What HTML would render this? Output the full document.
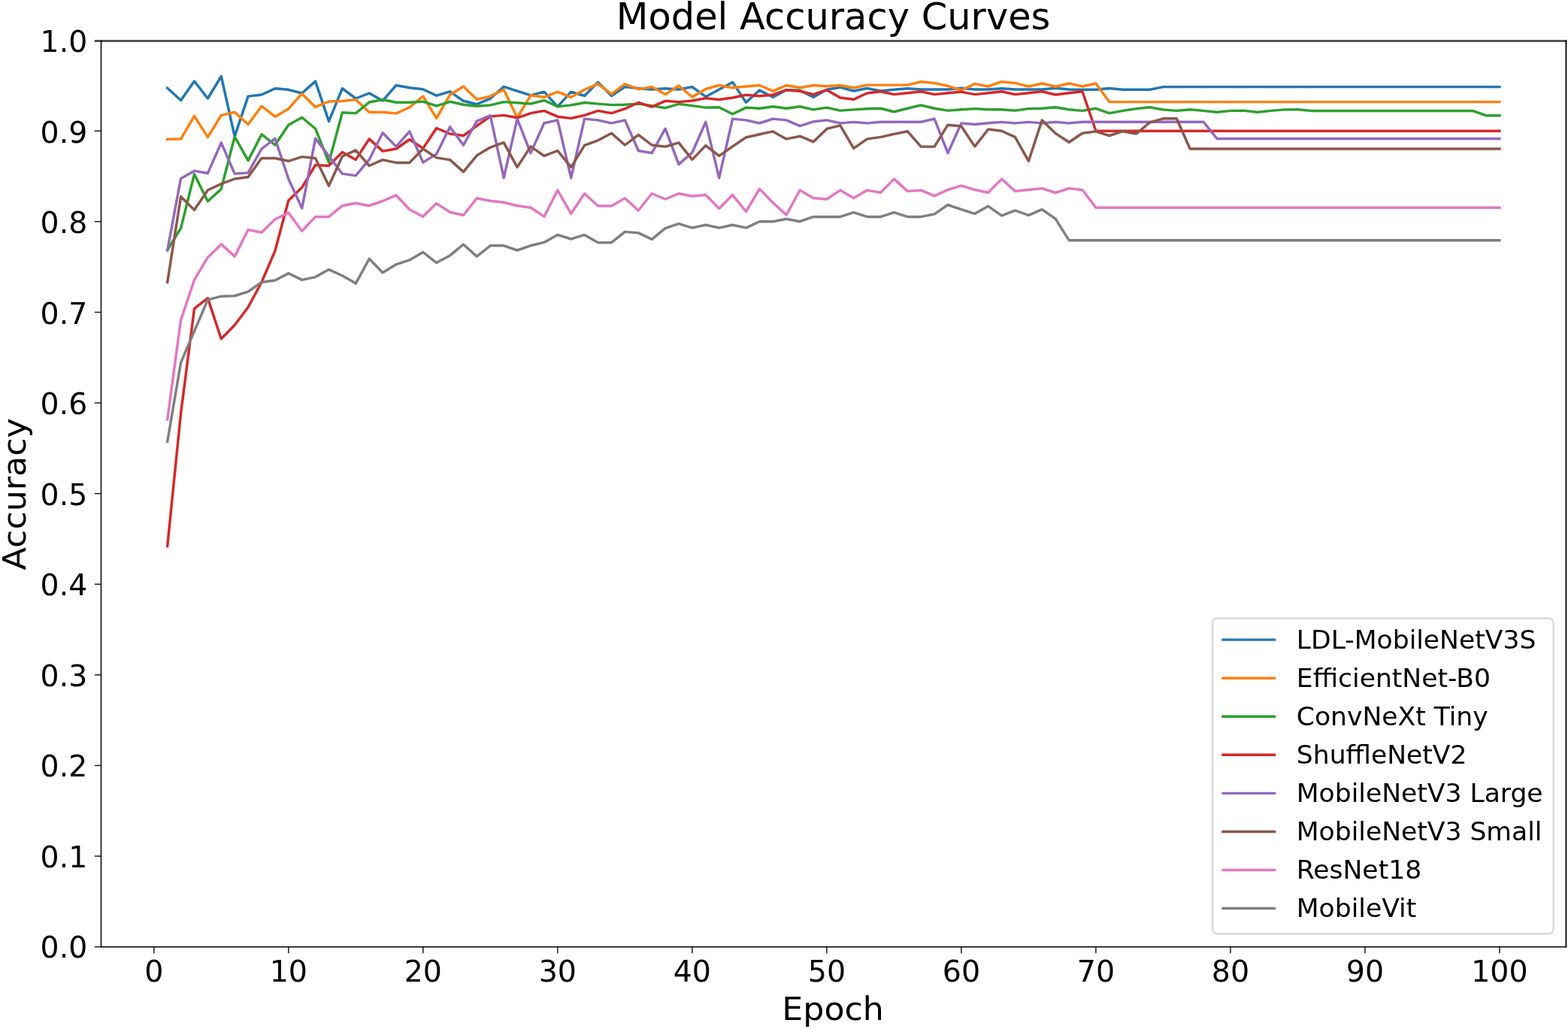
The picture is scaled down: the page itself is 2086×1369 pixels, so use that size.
<!DOCTYPE html>
<html lang="en"><head><meta charset="utf-8"><title>Model Accuracy Curves</title>
<style>html,body{margin:0;padding:0;background:#fff}body{width:2086px;height:1369px;overflow:hidden}svg{display:block}text{font-family:"DejaVu Sans","Liberation Sans",sans-serif;fill:#000}</style></head><body>
<svg width="2086" height="1369" viewBox="0 0 2086 1369">
<rect width="2086" height="1369" fill="#fff"/>
<g fill="none" stroke-width="3.45" stroke-linejoin="round" stroke-linecap="square">
<polyline stroke="#1f77b4" points="222.7,117.2 240.6,133.5 258.5,108.0 276.4,131.0 294.3,101.5 312.2,181.4 330.1,128.1 348.0,126.0 365.9,117.7 383.8,119.3 401.7,124.0 419.6,108.1 437.5,161.4 455.4,117.7 473.3,131.0 491.2,124.0 509.1,134.1 527.0,113.5 544.9,116.8 562.8,118.7 580.7,127.2 598.6,121.8 616.5,134.3 634.4,138.7 652.3,131.2 670.2,115.3 688.1,121.2 706.0,126.8 723.9,122.2 741.8,141.8 759.7,122.2 777.6,127.5 795.5,109.4 813.5,127.5 831.4,115.6 849.3,117.5 867.2,119.0 885.1,117.7 903.0,119.0 920.9,115.6 938.8,128.7 956.7,119.0 974.6,109.4 992.5,136.2 1010.4,120.0 1028.3,129.3 1046.2,119.7 1064.1,120.2 1082.0,129.3 1099.9,119.3 1117.8,116.2 1135.7,121.0 1153.6,117.5 1171.5,121.0 1189.4,119.3 1207.3,117.7 1225.2,119.0 1243.1,119.0 1261.0,119.0 1278.9,117.2 1296.8,119.0 1314.7,119.0 1332.6,117.7 1350.5,119.0 1368.4,119.0 1386.3,119.0 1404.2,117.2 1422.1,119.0 1440.0,119.3 1457.9,119.3 1475.8,117.5 1493.7,119.3 1511.6,119.3 1529.5,119.3 1547.4,115.6 1565.3,115.6 1583.2,115.6 1601.1,115.6 1619.0,115.6 1636.9,115.6 1654.8,115.6 1672.7,115.6 1690.6,115.6 1708.5,115.6 1726.4,115.6 1744.3,115.6 1762.2,115.6 1780.1,115.6 1798.0,115.6 1815.9,115.6 1833.8,115.6 1851.7,115.6 1869.6,115.6 1887.5,115.6 1905.4,115.6 1923.3,115.6 1941.2,115.6 1959.1,115.6 1977.0,115.6 1994.9,115.6"/>
<polyline stroke="#ff7f0e" points="222.7,185.3 240.6,184.9 258.5,154.3 276.4,182.7 294.3,153.4 312.2,149.3 330.1,165.5 348.0,141.2 365.9,155.2 383.8,144.7 401.7,124.7 419.6,142.4 437.5,135.0 455.4,134.5 473.3,132.5 491.2,149.3 509.1,149.3 527.0,150.9 544.9,142.7 562.8,128.1 580.7,157.4 598.6,126.2 616.5,115.0 634.4,132.2 652.3,128.1 670.2,119.3 688.1,156.5 706.0,126.8 723.9,129.3 741.8,122.2 759.7,129.3 777.6,119.3 795.5,111.6 813.5,125.2 831.4,111.8 849.3,118.7 867.2,115.6 885.1,125.6 903.0,114.0 920.9,129.0 938.8,118.5 956.7,113.5 974.6,116.8 992.5,115.0 1010.4,113.5 1028.3,121.2 1046.2,113.5 1064.1,116.8 1082.0,113.5 1099.9,114.7 1117.8,113.5 1135.7,116.8 1153.6,113.1 1171.5,113.1 1189.4,113.1 1207.3,113.1 1225.2,108.7 1243.1,110.6 1261.0,114.3 1278.9,120.0 1296.8,111.6 1314.7,115.0 1332.6,108.7 1350.5,110.6 1368.4,115.0 1386.3,111.0 1404.2,115.3 1422.1,111.0 1440.0,115.0 1457.9,111.0 1475.8,135.6 1493.7,135.6 1511.6,135.6 1529.5,135.6 1547.4,135.6 1565.3,135.6 1583.2,135.6 1601.1,135.6 1619.0,135.6 1636.9,135.6 1654.8,135.6 1672.7,135.6 1690.6,135.6 1708.5,135.6 1726.4,135.6 1744.3,135.6 1762.2,135.6 1780.1,135.6 1798.0,135.6 1815.9,135.6 1833.8,135.6 1851.7,135.6 1869.6,135.6 1887.5,135.6 1905.4,135.6 1923.3,135.6 1941.2,135.6 1959.1,135.6 1977.0,135.6 1994.9,135.6"/>
<polyline stroke="#2ca02c" points="222.7,332.6 240.6,303.7 258.5,231.8 276.4,267.8 294.3,251.5 312.2,181.8 330.1,213.6 348.0,178.7 365.9,193.0 383.8,166.2 401.7,156.2 419.6,171.2 437.5,216.1 455.4,149.7 473.3,150.6 491.2,136.0 509.1,132.5 527.0,136.2 544.9,136.2 562.8,135.2 580.7,140.9 598.6,135.3 616.5,139.3 634.4,141.2 652.3,139.9 670.2,135.6 688.1,136.8 706.0,138.1 723.9,133.5 741.8,141.8 759.7,139.9 777.6,136.5 795.5,138.1 813.5,139.6 831.4,139.3 849.3,138.1 867.2,140.6 885.1,143.7 903.0,138.4 920.9,140.6 938.8,143.1 956.7,142.7 974.6,151.8 992.5,143.1 1010.4,144.3 1028.3,141.8 1046.2,144.3 1064.1,141.8 1082.0,145.9 1099.9,143.1 1117.8,147.1 1135.7,145.9 1153.6,144.7 1171.5,144.3 1189.4,148.7 1207.3,144.3 1225.2,139.9 1243.1,144.3 1261.0,147.1 1278.9,145.8 1296.8,144.6 1314.7,145.8 1332.6,145.8 1350.5,147.1 1368.4,144.6 1386.3,144.3 1404.2,142.7 1422.1,145.8 1440.0,147.4 1457.9,144.3 1475.8,150.6 1493.7,147.4 1511.6,144.6 1529.5,142.7 1547.4,145.9 1565.3,147.4 1583.2,145.8 1601.1,147.4 1619.0,149.3 1636.9,147.4 1654.8,147.1 1672.7,149.3 1690.6,147.4 1708.5,145.9 1726.4,145.8 1744.3,147.4 1762.2,147.4 1780.1,147.4 1798.0,147.4 1815.9,147.4 1833.8,147.4 1851.7,147.4 1869.6,147.4 1887.5,147.4 1905.4,147.4 1923.3,147.4 1941.2,147.4 1959.1,147.4 1977.0,153.7 1994.9,153.7"/>
<polyline stroke="#d62728" points="222.7,726.7 240.6,549.8 258.5,410.6 276.4,396.6 294.3,450.8 312.2,432.5 330.1,408.7 348.0,375.5 365.9,333.7 383.8,266.8 401.7,249.4 419.6,219.6 437.5,220.5 455.4,202.4 473.3,212.4 491.2,184.9 509.1,201.1 527.0,198.0 544.9,185.5 562.8,197.4 580.7,170.5 598.6,178.0 616.5,180.5 634.4,167.4 652.3,154.9 670.2,153.4 688.1,156.8 706.0,150.6 723.9,147.4 741.8,155.2 759.7,157.4 777.6,153.4 795.5,147.4 813.5,150.6 831.4,144.7 849.3,136.5 867.2,142.2 885.1,134.3 903.0,135.6 920.9,134.0 938.8,130.6 956.7,132.5 974.6,130.0 992.5,126.2 1010.4,127.7 1028.3,126.2 1046.2,119.7 1064.1,121.2 1082.0,125.6 1099.9,119.7 1117.8,130.0 1135.7,132.2 1153.6,124.0 1171.5,121.8 1189.4,125.6 1207.3,123.7 1225.2,121.8 1243.1,125.6 1261.0,123.7 1278.9,122.1 1296.8,125.6 1314.7,123.7 1332.6,121.8 1350.5,125.6 1368.4,123.7 1386.3,121.8 1404.2,126.0 1422.1,123.7 1440.0,121.8 1457.9,174.3 1475.8,174.3 1493.7,174.3 1511.6,174.3 1529.5,174.3 1547.4,174.3 1565.3,174.3 1583.2,174.3 1601.1,174.3 1619.0,174.3 1636.9,174.3 1654.8,174.3 1672.7,174.3 1690.6,174.3 1708.5,174.3 1726.4,174.3 1744.3,174.3 1762.2,174.3 1780.1,174.3 1798.0,174.3 1815.9,174.3 1833.8,174.3 1851.7,174.3 1869.6,174.3 1887.5,174.3 1905.4,174.3 1923.3,174.3 1941.2,174.3 1959.1,174.3 1977.0,174.3 1994.9,174.3"/>
<polyline stroke="#9467bd" points="222.7,333.0 240.6,237.4 258.5,227.4 276.4,230.5 294.3,189.9 312.2,231.1 330.1,229.9 348.0,198.0 365.9,184.3 383.8,238.0 401.7,277.1 419.6,184.3 437.5,207.6 455.4,231.1 473.3,233.6 491.2,212.4 509.1,176.8 527.0,194.9 544.9,174.9 562.8,216.1 580.7,204.9 598.6,168.7 616.5,193.0 634.4,161.2 652.3,153.7 670.2,236.7 688.1,158.1 706.0,203.6 723.9,163.7 741.8,159.9 759.7,236.7 777.6,158.1 795.5,159.9 813.5,163.9 831.4,159.9 849.3,200.5 867.2,203.6 885.1,171.2 903.0,218.6 920.9,203.0 938.8,162.4 956.7,236.7 974.6,158.1 992.5,159.9 1010.4,163.9 1028.3,158.1 1046.2,159.9 1064.1,167.7 1082.0,161.8 1099.9,159.9 1117.8,163.9 1135.7,162.4 1153.6,163.9 1171.5,162.2 1189.4,162.2 1207.3,162.2 1225.2,162.2 1243.1,158.1 1261.0,203.6 1278.9,163.9 1296.8,165.5 1314.7,163.7 1332.6,162.4 1350.5,163.9 1368.4,162.4 1386.3,163.9 1404.2,162.2 1422.1,163.9 1440.0,162.2 1457.9,162.2 1475.8,162.2 1493.7,162.2 1511.6,162.2 1529.5,162.2 1547.4,162.2 1565.3,162.2 1583.2,162.2 1601.1,162.2 1619.0,184.5 1636.9,184.5 1654.8,184.5 1672.7,184.5 1690.6,184.5 1708.5,184.5 1726.4,184.5 1744.3,184.5 1762.2,184.5 1780.1,184.5 1798.0,184.5 1815.9,184.5 1833.8,184.5 1851.7,184.5 1869.6,184.5 1887.5,184.5 1905.4,184.5 1923.3,184.5 1941.2,184.5 1959.1,184.5 1977.0,184.5 1994.9,184.5"/>
<polyline stroke="#8c564b" points="222.7,375.5 240.6,261.5 258.5,279.3 276.4,253.0 294.3,244.6 312.2,238.0 330.1,235.5 348.0,210.5 365.9,210.5 383.8,214.3 401.7,208.6 419.6,210.5 437.5,247.3 455.4,208.0 473.3,199.9 491.2,220.5 509.1,212.6 527.0,216.4 544.9,216.4 562.8,198.0 580.7,209.9 598.6,212.6 616.5,228.6 634.4,206.8 652.3,196.1 670.2,189.6 688.1,222.4 706.0,194.9 723.9,207.4 741.8,200.5 759.7,222.4 777.6,193.4 795.5,186.8 813.5,177.2 831.4,193.0 849.3,179.3 867.2,193.0 885.1,195.1 903.0,189.9 920.9,212.4 938.8,193.6 956.7,207.4 974.6,194.9 992.5,182.7 1010.4,178.7 1028.3,174.9 1046.2,184.9 1064.1,181.2 1082.0,188.7 1099.9,171.4 1117.8,166.8 1135.7,197.4 1153.6,184.9 1171.5,182.4 1189.4,178.4 1207.3,174.7 1225.2,195.1 1243.1,195.1 1261.0,166.2 1278.9,168.0 1296.8,194.9 1314.7,172.0 1332.6,174.3 1350.5,182.4 1368.4,214.3 1386.3,159.9 1404.2,177.4 1422.1,189.3 1440.0,177.2 1457.9,174.9 1475.8,180.5 1493.7,174.7 1511.6,178.0 1529.5,163.0 1547.4,157.8 1565.3,157.8 1583.2,198.0 1601.1,198.0 1619.0,198.0 1636.9,198.0 1654.8,198.0 1672.7,198.0 1690.6,198.0 1708.5,198.0 1726.4,198.0 1744.3,198.0 1762.2,198.0 1780.1,198.0 1798.0,198.0 1815.9,198.0 1833.8,198.0 1851.7,198.0 1869.6,198.0 1887.5,198.0 1905.4,198.0 1923.3,198.0 1941.2,198.0 1959.1,198.0 1977.0,198.0 1994.9,198.0"/>
<polyline stroke="#e377c2" points="222.7,558.0 240.6,425.6 258.5,372.4 276.4,342.4 294.3,324.9 312.2,341.1 330.1,305.8 348.0,309.3 365.9,291.8 383.8,283.1 401.7,307.4 419.6,288.4 437.5,288.4 455.4,273.7 473.3,270.2 491.2,273.7 509.1,267.5 527.0,259.7 544.9,278.7 562.8,288.1 580.7,270.6 598.6,282.2 616.5,286.2 634.4,263.7 652.3,267.2 670.2,269.3 688.1,273.7 706.0,276.2 723.9,288.1 741.8,253.1 759.7,284.3 777.6,257.5 795.5,274.0 813.5,274.0 831.4,263.7 849.3,280.0 867.2,257.5 885.1,265.0 903.0,257.5 920.9,261.0 938.8,259.3 956.7,277.5 974.6,259.3 992.5,281.5 1010.4,251.2 1028.3,269.7 1046.2,285.9 1064.1,253.1 1082.0,263.5 1099.9,265.0 1117.8,253.1 1135.7,263.5 1153.6,253.1 1171.5,256.2 1189.4,238.1 1207.3,254.4 1225.2,253.1 1243.1,260.6 1261.0,252.5 1278.9,246.9 1296.8,252.5 1314.7,256.2 1332.6,238.1 1350.5,254.4 1368.4,252.5 1386.3,250.6 1404.2,256.5 1422.1,250.6 1440.0,252.7 1457.9,276.2 1475.8,276.2 1493.7,276.2 1511.6,276.2 1529.5,276.2 1547.4,276.2 1565.3,276.2 1583.2,276.2 1601.1,276.2 1619.0,276.2 1636.9,276.2 1654.8,276.2 1672.7,276.2 1690.6,276.2 1708.5,276.2 1726.4,276.2 1744.3,276.2 1762.2,276.2 1780.1,276.2 1798.0,276.2 1815.9,276.2 1833.8,276.2 1851.7,276.2 1869.6,276.2 1887.5,276.2 1905.4,276.2 1923.3,276.2 1941.2,276.2 1959.1,276.2 1977.0,276.2 1994.9,276.2"/>
<polyline stroke="#7f7f7f" points="222.7,587.5 240.6,482.4 258.5,440.6 276.4,398.9 294.3,394.2 312.2,393.6 330.1,388.0 348.0,375.5 365.9,373.0 383.8,363.6 401.7,372.4 419.6,368.6 437.5,358.6 455.4,366.7 473.3,377.1 491.2,344.3 509.1,362.7 527.0,351.8 544.9,345.9 562.8,335.5 580.7,349.6 598.6,339.9 616.5,325.2 634.4,341.1 652.3,326.8 670.2,326.8 688.1,333.0 706.0,326.8 723.9,322.4 741.8,312.4 759.7,318.0 777.6,312.4 795.5,322.7 813.5,322.7 831.4,308.4 849.3,309.9 867.2,318.4 885.1,303.7 903.0,297.7 920.9,303.1 938.8,299.3 956.7,303.1 974.6,299.3 992.5,303.1 1010.4,294.7 1028.3,294.7 1046.2,291.2 1064.1,294.7 1082.0,288.4 1099.9,288.4 1117.8,288.4 1135.7,282.7 1153.6,288.4 1171.5,288.4 1189.4,282.7 1207.3,288.4 1225.2,288.4 1243.1,284.9 1261.0,272.5 1278.9,278.7 1296.8,284.3 1314.7,274.3 1332.6,286.8 1350.5,280.0 1368.4,286.4 1386.3,278.7 1404.2,291.2 1422.1,319.7 1440.0,319.7 1457.9,319.7 1475.8,319.7 1493.7,319.7 1511.6,319.7 1529.5,319.7 1547.4,319.7 1565.3,319.7 1583.2,319.7 1601.1,319.7 1619.0,319.7 1636.9,319.7 1654.8,319.7 1672.7,319.7 1690.6,319.7 1708.5,319.7 1726.4,319.7 1744.3,319.7 1762.2,319.7 1780.1,319.7 1798.0,319.7 1815.9,319.7 1833.8,319.7 1851.7,319.7 1869.6,319.7 1887.5,319.7 1905.4,319.7 1923.3,319.7 1941.2,319.7 1959.1,319.7 1977.0,319.7 1994.9,319.7"/>
</g>
<rect x="125.9" y="53.1" width="1958.30" height="2.80" fill="#4a4a4a"/>
<g fill="none" stroke="#000" stroke-width="1.5" stroke-linecap="square">
<line x1="134.5" y1="54.5" x2="134.5" y2="1259.65"/>
<line x1="2083.45" y1="54.5" x2="2083.45" y2="1259.65" stroke-width="1.8"/>
<line x1="134.5" y1="1259.65" x2="2083.45" y2="1259.65"/>
</g>
<g stroke="#1a1a1a" stroke-width="1.5">
<line x1="204.80" y1="1259.65" x2="204.80" y2="1268.25"/>
<line x1="134.5" y1="1259.65" x2="125.9" y2="1259.65"/>
<line x1="383.81" y1="1259.65" x2="383.81" y2="1268.25"/>
<line x1="134.5" y1="1139.05" x2="125.9" y2="1139.05"/>
<line x1="562.83" y1="1259.65" x2="562.83" y2="1268.25"/>
<line x1="134.5" y1="1018.45" x2="125.9" y2="1018.45"/>
<line x1="741.85" y1="1259.65" x2="741.85" y2="1268.25"/>
<line x1="134.5" y1="897.85" x2="125.9" y2="897.85"/>
<line x1="920.86" y1="1259.65" x2="920.86" y2="1268.25"/>
<line x1="134.5" y1="777.25" x2="125.9" y2="777.25"/>
<line x1="1099.88" y1="1259.65" x2="1099.88" y2="1268.25"/>
<line x1="134.5" y1="656.65" x2="125.9" y2="656.65"/>
<line x1="1278.89" y1="1259.65" x2="1278.89" y2="1268.25"/>
<line x1="134.5" y1="536.05" x2="125.9" y2="536.05"/>
<line x1="1457.90" y1="1259.65" x2="1457.90" y2="1268.25"/>
<line x1="134.5" y1="415.45" x2="125.9" y2="415.45"/>
<line x1="1636.92" y1="1259.65" x2="1636.92" y2="1268.25"/>
<line x1="134.5" y1="294.85" x2="125.9" y2="294.85"/>
<line x1="1815.93" y1="1259.65" x2="1815.93" y2="1268.25"/>
<line x1="134.5" y1="174.25" x2="125.9" y2="174.25"/>
<line x1="1994.95" y1="1259.65" x2="1994.95" y2="1268.25"/>
</g>
<text transform="translate(204.80,1305.95) scale(1.03,1.0)" font-size="38.4" text-anchor="middle">0</text>
<text transform="translate(383.81,1305.95) scale(1.03,1.0)" font-size="38.4" text-anchor="middle">10</text>
<text transform="translate(562.83,1305.95) scale(1.03,1.0)" font-size="38.4" text-anchor="middle">20</text>
<text transform="translate(741.85,1305.95) scale(1.03,1.0)" font-size="38.4" text-anchor="middle">30</text>
<text transform="translate(920.86,1305.95) scale(1.03,1.0)" font-size="38.4" text-anchor="middle">40</text>
<text transform="translate(1099.88,1305.95) scale(1.03,1.0)" font-size="38.4" text-anchor="middle">50</text>
<text transform="translate(1278.89,1305.95) scale(1.03,1.0)" font-size="38.4" text-anchor="middle">60</text>
<text transform="translate(1457.90,1305.95) scale(1.03,1.0)" font-size="38.4" text-anchor="middle">70</text>
<text transform="translate(1636.92,1305.95) scale(1.03,1.0)" font-size="38.4" text-anchor="middle">80</text>
<text transform="translate(1815.93,1305.95) scale(1.03,1.0)" font-size="38.4" text-anchor="middle">90</text>
<text transform="translate(1994.95,1305.95) scale(1.03,1.0)" font-size="38.4" text-anchor="middle">100</text>
<text transform="translate(116.20,1274.30) scale(1.025,1.0)" font-size="38.4" text-anchor="end">0.0</text>
<text transform="translate(116.20,1153.80) scale(1.025,1.0)" font-size="38.4" text-anchor="end">0.1</text>
<text transform="translate(116.20,1033.30) scale(1.025,1.0)" font-size="38.4" text-anchor="end">0.2</text>
<text transform="translate(116.20,912.80) scale(1.025,1.0)" font-size="38.4" text-anchor="end">0.3</text>
<text transform="translate(116.20,792.30) scale(1.025,1.0)" font-size="38.4" text-anchor="end">0.4</text>
<text transform="translate(116.20,671.80) scale(1.025,1.0)" font-size="38.4" text-anchor="end">0.5</text>
<text transform="translate(116.20,551.30) scale(1.025,1.0)" font-size="38.4" text-anchor="end">0.6</text>
<text transform="translate(116.20,430.80) scale(1.025,1.0)" font-size="38.4" text-anchor="end">0.7</text>
<text transform="translate(116.20,310.30) scale(1.025,1.0)" font-size="38.4" text-anchor="end">0.8</text>
<text transform="translate(116.20,189.80) scale(1.025,1.0)" font-size="38.4" text-anchor="end">0.9</text>
<text transform="translate(116.20,69.30) scale(1.025,1.0)" font-size="38.4" text-anchor="end">1.0</text>
<text transform="translate(1108.57,39.40) scale(0.986,1.0)" font-size="50.2" text-anchor="middle">Model Accuracy Curves</text>
<text transform="translate(1108.12,1357.45) scale(1.03,1.0)" font-size="43.0" text-anchor="middle">Epoch</text>
<text transform="translate(33.80,657.38) rotate(-90) scale(1.03,1.0)" font-size="43.0" text-anchor="middle">Accuracy</text>
<rect x="1613.15" y="822.7" width="453.4499999999998" height="419.5999999999999" rx="6" ry="6" fill="#fff" fill-opacity="0.8" stroke="#cccccc" stroke-opacity="0.8" stroke-width="2.2"/>
<g stroke-width="3.45" stroke-linecap="square">
<line x1="1627" y1="851.10" x2="1695.5" y2="851.10" stroke="#1f77b4"/>
<line x1="1627" y1="902.17" x2="1695.5" y2="902.17" stroke="#ff7f0e"/>
<line x1="1627" y1="953.24" x2="1695.5" y2="953.24" stroke="#2ca02c"/>
<line x1="1627" y1="1004.31" x2="1695.5" y2="1004.31" stroke="#d62728"/>
<line x1="1627" y1="1055.38" x2="1695.5" y2="1055.38" stroke="#9467bd"/>
<line x1="1627" y1="1106.45" x2="1695.5" y2="1106.45" stroke="#8c564b"/>
<line x1="1627" y1="1157.52" x2="1695.5" y2="1157.52" stroke="#e377c2"/>
<line x1="1627" y1="1208.59" x2="1695.5" y2="1208.59" stroke="#7f7f7f"/>
</g>
<text transform="translate(1724.80,862.80) scale(1.005,1.0)" font-size="34.4">LDL-MobileNetV3S</text>
<text transform="translate(1724.80,913.87) scale(1.005,1.0)" font-size="34.4">EfficientNet-B0</text>
<text transform="translate(1724.80,964.94) scale(1.005,1.0)" font-size="34.4">ConvNeXt Tiny</text>
<text transform="translate(1724.80,1016.01) scale(1.005,1.0)" font-size="34.4">ShuffleNetV2</text>
<text transform="translate(1724.80,1067.08) scale(1.005,1.0)" font-size="34.4">MobileNetV3 Large</text>
<text transform="translate(1724.80,1118.15) scale(1.005,1.0)" font-size="34.4">MobileNetV3 Small</text>
<text transform="translate(1724.80,1169.22) scale(1.005,1.0)" font-size="34.4">ResNet18</text>
<text transform="translate(1724.80,1220.29) scale(1.005,1.0)" font-size="34.4">MobileVit</text>
</svg></body></html>
